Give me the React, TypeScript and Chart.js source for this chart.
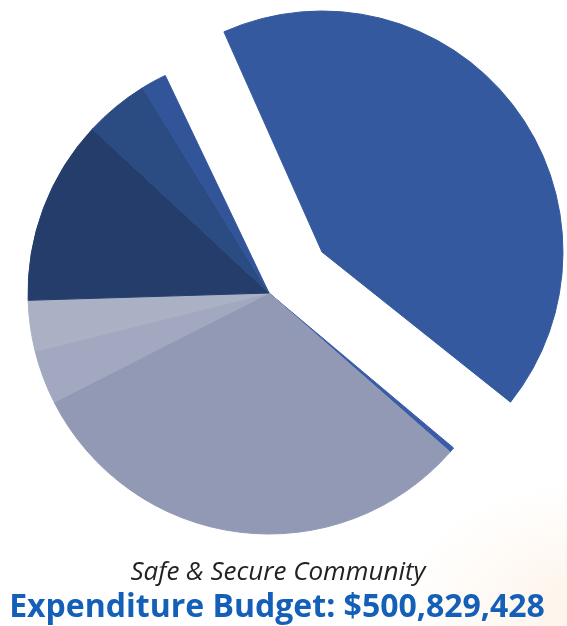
import React, { useEffect, useRef } from "react";
import { Chart, registerables } from "chart.js";

Chart.register(...registerables);

const categories = [
  "Police",
  "Public Safety Communications",
  "Fire & Rescue",
  "Emergency Management",
  "Animal Services",
  "Municipal Court",
  "Code Enforcement",
  "Community Safety",
];
const shares = [43.2, 0.35, 31.05, 3.6, 3.4, 12.4, 4.3, 1.7];
const sliceColors = [
  "#34599f",
  "#3a5ca8",
  "#9199b5",
  "#a1a8bf",
  "#abb1c5",
  "#243d6b",
  "#2b4b83",
  "#32559a",
];
const explodeOffsets = [268, 0, 0, 0, 0, 0, 0, 0];
const title = "Safe & Secure Community";
const subtitle = "Expenditure Budget: $500,829,428";

const explodeFix = {
  id: "explodeFix",
  afterDatasetsUpdate(chart: any) {
    chart.getSortedVisibleDatasetMetas().forEach((meta: any) => {
      meta.data.forEach((arc: any) => {
        const off = (arc.options && arc.options.offset) || 0;
        if (!off) return;
        const fix = 1 - Math.sin(Math.min(Math.PI, arc.circumference));
        arc.outerRadius -= (off / 4) * fix;
      });
    });
  },
};

export default function App() {
  const ref = useRef<HTMLCanvasElement | null>(null);
  useEffect(() => {
    if (!ref.current) return;
    const chart = new Chart(ref.current, {
      type: "pie",
      data: {
        labels: categories,
        datasets: [
          {
            data: shares,
            backgroundColor: sliceColors,
            borderColor: sliceColors,
            borderWidth: 1,
            offset: explodeOffsets,
            hoverOffset: 0,
          } as any,
        ],
      },
      options: {
        responsive: false,
        animation: false,
        rotation: -25.5,
        radius: 241,
        layout: { padding: { left: 0, right: 29, top: 0, bottom: 0 } },
        plugins: {
          legend: { display: false },
          tooltip: { enabled: false },
        },
      } as any,
      plugins: [explodeFix],
    });
    return () => chart.destroy();
  }, []);

  return (
    <div style={{ position: "absolute", left: 0, top: 0, width: 567, height: 626, background: "#fff", overflow: "hidden" }}>
      <div
        style={{
          position: "absolute",
          left: 380,
          top: 470,
          width: 300,
          height: 240,
          background: "radial-gradient(ellipse at 70% 60%, rgba(250,200,150,0.22), rgba(255,255,255,0) 65%)",
        }}
      />
      <canvas ref={ref} width={567} height={586} style={{ position: "absolute", left: 0, top: 0 }} />
      <div
        style={{
          position: "absolute",
          left: 0,
          width: 556,
          top: 555,
          textAlign: "center",
          fontFamily: "'Open Sans', sans-serif",
          fontStyle: "italic",
          fontSize: 26,
          lineHeight: "30px",
          color: "#222",
        }}
      >
        {title}
      </div>
      <div
        style={{
          position: "absolute",
          left: 0,
          width: 554,
          top: 587,
          textAlign: "center",
          fontFamily: "'Open Sans', sans-serif",
          fontWeight: 700,
          fontSize: 32,
          lineHeight: "36px",
          color: "#145fb7",
          whiteSpace: "nowrap",
        }}
      >
        {subtitle}
      </div>
    </div>
  );
}
